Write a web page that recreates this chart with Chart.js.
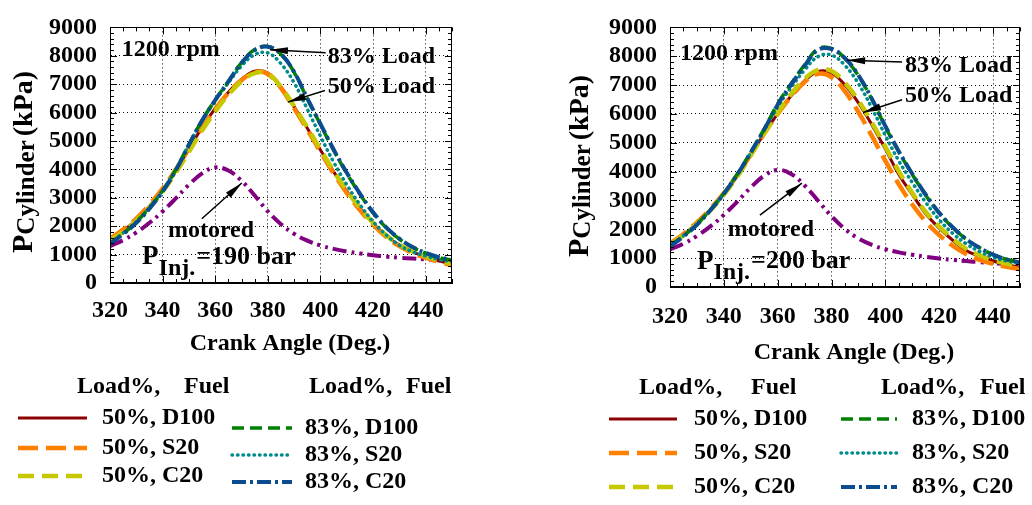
<!DOCTYPE html>
<html>
<head>
<meta charset="utf-8">
<script src="https://cdn.jsdelivr.net/npm/chart.js@4.4.0/dist/chart.umd.min.js"></script>
<style>
html, body { margin: 0; padding: 0; background: #fff; }
#wrap { position: relative; width: 1032px; height: 505px; }
canvas { position: absolute; top: 0; }
</style>
</head>
<body>
<div id="wrap">
  <canvas id="leftChart" width="516" height="505" style="left:0"></canvas>
  <canvas id="rightChart" width="516" height="505" style="left:516px"></canvas>
</div>
<script>
// crank angle (deg) and axis ticks
var crankAngle = [320, 325, 330, 335, 340, 345, 350, 355, 360, 365, 370, 375, 380, 385, 390, 395, 400, 405, 410, 415, 420, 425, 430, 435, 440, 445, 450];
var xTicks = [320, 340, 360, 380, 400, 420, 440];
var yTicks = [0, 1000, 2000, 3000, 4000, 5000, 6000, 7000, 8000, 9000];

// P_inj = 190 bar (kPa)
var inj190_d50 = [1500, 1830, 2220, 2700, 3270, 3950, 4720, 5480, 6150, 6720, 7170, 7460, 7390, 6900, 6200, 5450, 4680, 3920, 3230, 2630, 2100, 1660, 1340, 1100, 930, 780, 660];
var inj190_s50 = [1560, 1880, 2270, 2760, 3320, 3990, 4730, 5460, 6120, 6690, 7140, 7430, 7360, 6860, 6150, 5400, 4620, 3860, 3170, 2570, 2050, 1620, 1300, 1060, 890, 750, 620];
var inj190_c50 = [1480, 1800, 2190, 2660, 3220, 3880, 4620, 5370, 6040, 6630, 7100, 7390, 7370, 6900, 6220, 5480, 4700, 3950, 3260, 2650, 2120, 1680, 1350, 1110, 940, 800, 680];
var inj190_d83 = [1400, 1740, 2150, 2650, 3250, 3990, 4880, 5730, 6450, 7100, 7760, 8220, 8330, 8050, 7420, 6480, 5580, 4680, 3860, 3130, 2470, 1950, 1550, 1260, 1050, 900, 800];
var inj190_s83 = [1420, 1760, 2160, 2660, 3260, 4000, 4880, 5720, 6420, 7050, 7640, 8040, 8100, 7720, 7050, 6120, 5170, 4260, 3460, 2760, 2160, 1690, 1330, 1100, 950, 830, 740];
var inj190_c83 = [1380, 1720, 2120, 2620, 3220, 3960, 4860, 5720, 6440, 7090, 7750, 8200, 8320, 8060, 7430, 6500, 5600, 4700, 3880, 3150, 2490, 1960, 1560, 1270, 1060, 910, 810];
var inj190_motored = [1300, 1510, 1780, 2120, 2520, 2980, 3460, 3860, 4070, 3960, 3600, 3080, 2520, 2070, 1730, 1490, 1320, 1200, 1110, 1040, 980, 930, 890, 860, 830, 800, 770];

// P_inj = 200 bar (kPa)
var inj200_d50 = [1480, 1800, 2210, 2680, 3220, 3860, 4580, 5320, 6010, 6630, 7150, 7470, 7420, 7000, 6380, 5620, 4780, 3900, 3200, 2540, 2040, 1620, 1260, 1070, 900, 780, 680];
var inj200_s50 = [1510, 1840, 2240, 2710, 3250, 3880, 4590, 5320, 6000, 6610, 7110, 7390, 7280, 6780, 6060, 5230, 4370, 3560, 2860, 2270, 1800, 1430, 1140, 940, 800, 700, 620];
var inj200_c50 = [1470, 1790, 2190, 2660, 3200, 3830, 4560, 5320, 6040, 6690, 7220, 7530, 7490, 7080, 6460, 5700, 4860, 4010, 3260, 2600, 2090, 1670, 1320, 1100, 930, 810, 710];
var inj200_d83 = [1430, 1770, 2180, 2680, 3250, 3920, 4680, 5480, 6350, 7050, 7700, 8260, 8270, 7920, 7320, 6500, 5550, 4680, 3900, 3180, 2560, 2060, 1660, 1360, 1120, 960, 860];
var inj200_s83 = [1440, 1780, 2180, 2670, 3240, 3900, 4660, 5450, 6250, 6920, 7520, 7990, 8040, 7680, 7050, 6200, 5250, 4370, 3620, 2930, 2330, 1860, 1500, 1230, 1030, 900, 820];
var inj200_c83 = [1410, 1750, 2160, 2660, 3230, 3900, 4660, 5460, 6320, 7020, 7670, 8220, 8250, 7930, 7340, 6520, 5580, 4700, 3920, 3200, 2570, 2070, 1660, 1360, 1120, 960, 850];
var inj200_motored = [1300, 1500, 1770, 2100, 2500, 2960, 3450, 3860, 4060, 3920, 3520, 2990, 2450, 2010, 1680, 1460, 1310, 1200, 1120, 1050, 990, 940, 900, 860, 830, 800, 780];

Chart.defaults.font.family = "'Liberation Serif', 'Times New Roman', serif";
Chart.defaults.font.weight = 'bold';
Chart.defaults.color = '#000';

var SERIF = '"Liberation Serif", "Times New Roman", serif';
var FONT = 'bold 24px ' + SERIF;

var styles = {
    d50: { color: '#8B0000', width: 3, dash: [], cap: 'butt' },
    s50: { color: '#FF8000', width: 4.5, dash: [20, 8], cap: 'butt' },
    c50: { color: '#C8C800', width: 4.5, dash: [16, 8], cap: 'butt' },
    d83: { color: '#008000', width: 3.5, dash: [12, 6], cap: 'butt' },
    s83: { color: '#008B8B', width: 3.5, dash: [0.5, 5], cap: 'round' },
    c83: { color: '#0B4C8F', width: 4, dash: [14, 4, 3, 4], cap: 'butt' },
    mot: { color: '#800080', width: 4, dash: [14, 5, 3, 5, 3, 5], cap: 'butt' }
};

function mkSet(label, data, st, order) {
    return {
        label: label,
        data: data,
        borderColor: st.color,
        borderWidth: st.width,
        borderDash: st.dash,
        borderCapStyle: st.cap,
        pointRadius: 0,
        fill: false,
        tension: 0.4,
        order: order
    };
}

function drawArrow(ctx, x1, y1, x2, y2) {
    var ang = Math.atan2(y2 - y1, x2 - x1);
    ctx.beginPath();
    ctx.moveTo(x1, y1);
    ctx.lineTo(x2, y2);
    ctx.lineWidth = 1.5;
    ctx.stroke();
    ctx.beginPath();
    ctx.moveTo(x2, y2);
    ctx.lineTo(x2 - 18 * Math.cos(ang) + 3.5 * Math.sin(ang), y2 - 18 * Math.sin(ang) - 3.5 * Math.cos(ang));
    ctx.lineTo(x2 - 18 * Math.cos(ang) - 3.5 * Math.sin(ang), y2 - 18 * Math.sin(ang) + 3.5 * Math.cos(ang));
    ctx.closePath();
    ctx.fill();
}

var extras = {
    id: 'extras',
    afterDraw: function(chart, args, o) {
        var ctx = chart.ctx, a = chart.chartArea, xs = chart.scales.x, ys = chart.scales.y;
        var px = function(v) { return xs.getPixelForValue(v); };
        var py = function(v) { return ys.getPixelForValue(v); };
        ctx.save();
        ctx.strokeStyle = '#000';
        ctx.fillStyle = '#000';
        ctx.lineWidth = 1;

        // minor / major tick marks on all four sides
        ctx.beginPath();
        var v, p, len;
        for (v = xs.min; v <= xs.max; v += 5) {
            p = Math.round(px(v)) + 0.5;
            len = (v % 20 === 0) ? 7 : 4;
            ctx.moveTo(p, a.bottom); ctx.lineTo(p, a.bottom - len);
            ctx.moveTo(p, a.top); ctx.lineTo(p, a.top + len);
        }
        for (v = ys.min; v <= ys.max; v += 200) {
            p = Math.round(py(v)) + 0.5;
            len = (v % 1000 === 0) ? 7 : 4;
            ctx.moveTo(a.left, p); ctx.lineTo(a.left + len, p);
            ctx.moveTo(a.right, p); ctx.lineTo(a.right - len, p);
        }
        ctx.stroke();
        ctx.strokeRect(Math.round(a.left) + 0.5, Math.round(a.top) + 0.5, Math.round(a.right - a.left) - 1, Math.round(a.bottom - a.top) - 1);

        ctx.font = FONT;
        ctx.textBaseline = 'middle';
        ctx.textAlign = 'left';

        // annotations inside the plot
        ctx.fillText('1200 rpm', px(o.rpm[0]), py(o.rpm[1]));
        ctx.fillText('83% Load', px(o.load83[0]), py(o.load83[1]));
        ctx.fillText('50% Load', px(o.load50[0]), py(o.load50[1]));
        drawArrow(ctx, px(o.arrow83[0]), py(o.arrow83[1]), px(o.arrow83[2]), py(o.arrow83[3]));
        drawArrow(ctx, px(o.arrow50[0]), py(o.arrow50[1]), px(o.arrow50[2]), py(o.arrow50[3]));
        ctx.textAlign = 'center';
        ctx.fillText('motored', px(o.motored[0]), py(o.motored[1]));
        drawArrow(ctx, px(o.arrowMot[0]), py(o.arrowMot[1]), px(o.arrowMot[2]), py(o.arrowMot[3]));

        // P_Inj. label with subscript
        ctx.textAlign = 'left';
        var ix = px(o.inj[0]), iy = py(o.inj[1]);
        ctx.font = 'bold 27px ' + SERIF;
        ctx.fillText('P', ix, iy);
        ix += ctx.measureText('P').width;
        ctx.font = FONT;
        ctx.fillText('Inj.', ix, iy + 11);
        ix += ctx.measureText('Inj.').width + 1;
        ctx.font = 'bold 26px ' + SERIF;
        ctx.fillText('=' + o.injText + ' bar', ix, iy);
        ctx.font = FONT;

        // axis titles
        ctx.textAlign = 'center';
        ctx.fillText('Crank Angle (Deg.)', (a.left + a.right) / 2 + 9, a.bottom + o.xTitleGap);

        ctx.save();
        ctx.translate(a.left - o.yTitleGap, a.bottom - 30);
        ctx.rotate(-Math.PI / 2);
        ctx.textAlign = 'left';
        ctx.textBaseline = 'alphabetic';
        ctx.font = 'bold 30px ' + SERIF;
        ctx.fillText('P', 0, 0);
        var w = ctx.measureText('P').width;
        ctx.font = 'bold 25px ' + SERIF;
        ctx.fillText('Cylinder', w, 2);
        w += ctx.measureText('Cylinder').width + 4;
        ctx.font = 'bold 28px ' + SERIF;
        ctx.fillText('(kPa)', w, 0);
        ctx.restore();

        // legend below the plot
        var lg = o.legend;
        ctx.font = FONT;
        ctx.textAlign = 'left';
        ctx.textBaseline = 'middle';
        lg.headers.forEach(function(h) { ctx.fillText(h[0], h[1], h[2]); });
        lg.rows.forEach(function(r) {
            var ds = chart.data.datasets.filter(function(d) { return d.label === r[0]; })[0];
            ctx.save();
            ctx.beginPath();
            ctx.strokeStyle = ds.borderColor;
            ctx.lineWidth = ds.borderWidth;
            ctx.lineCap = ds.borderCapStyle;
            ctx.setLineDash(ds.borderDash);
            ctx.moveTo(r[1], r[3]);
            ctx.lineTo(r[2], r[3]);
            ctx.stroke();
            ctx.restore();
            ctx.fillText(r[0], r[4], r[3]);
        });
        ctx.restore();
    }
};

function buildChart(id, s, cfg) {
    var ctx = document.getElementById(id).getContext('2d');
    return new Chart(ctx, {
        type: 'line',
        data: {
            labels: crankAngle,
            datasets: [
                mkSet('50%, D100', s.d50, styles.d50, 6),
                mkSet('50%, S20', s.s50, styles.s50, 5),
                mkSet('50%, C20', s.c50, styles.c50, 4),
                mkSet('83%, D100', s.d83, styles.d83, 2),
                mkSet('83%, S20', s.s83, styles.s83, 3),
                mkSet('83%, C20', s.c83, styles.c83, 1),
                mkSet('motored', s.mot, styles.mot, 7)
            ].map(function(ds) {
                ds.data = ds.data.map(function(y, i) { return { x: crankAngle[i], y: y }; });
                return ds;
            })
        },
        options: {
            responsive: false,
            animation: false,
            devicePixelRatio: 1,
            events: [],
            layout: { padding: { left: 0, top: 19, right: cfg.padRight, bottom: cfg.padBottom } },
            scales: {
                x: {
                    type: 'linear',
                    min: 320,
                    max: 450,
                    afterFit: function(scale) { scale.height = 40; },
                    afterBuildTicks: function(scale) { scale.ticks = xTicks.map(function(t) { return { value: t }; }); },
                    ticks: {
                        font: { size: 24, weight: 'bold' }, color: '#000', padding: cfg.xPad,
                        maxRotation: 0, autoSkip: false,
                        callback: function(v) { return String(v); }
                    },
                    grid: { color: '#000', lineWidth: 1, drawTicks: false },
                    border: { display: true, color: '#000', width: 1, dash: [1, 3] }
                },
                y: {
                    min: 0,
                    max: 9000,
                    afterFit: function(scale) { scale.width = cfg.yWidth; },
                    afterBuildTicks: function(scale) { scale.ticks = yTicks.map(function(t) { return { value: t }; }); },
                    ticks: {
                        font: { size: 24, weight: 'bold' }, color: '#000', padding: 13,
                        autoSkip: false,
                        callback: function(v) { return String(v); }
                    },
                    grid: { color: '#000', lineWidth: 1, drawTicks: false },
                    border: { display: true, color: '#000', width: 1, dash: [1, 3] }
                }
            },
            plugins: {
                legend: { display: false },
                tooltip: { enabled: false },
                extras: cfg.notes
            }
        },
        plugins: [extras]
    });
}

buildChart('leftChart', {
    d50: inj190_d50, s50: inj190_s50, c50: inj190_c50,
    d83: inj190_d83, s83: inj190_s83, c83: inj190_c83, mot: inj190_motored
}, {
    padRight: 64, padBottom: 182, yWidth: 110, xPad: 13,
    notes: {
        rpm: [324.5, 8200],
        load83: [402.8, 7970], arrow83: [402.0, 8110, 380.8, 8210],
        load50: [402.8, 6910], arrow50: [401.7, 6780, 387.6, 6370],
        motored: [358.4, 1850], arrowMot: [354.9, 2260, 370.1, 3520],
        inj: [332.2, 900], injText: '190',
        xTitleGap: 61, yTitleGap: 78,
        legend: {
            headers: [['Load%,', 77, 387], ['Fuel', 184, 387], ['Load%,', 309, 387], ['Fuel', 406, 387]],
            rows: [
                ['50%, D100', 18, 87, 418, 102],
                ['50%, S20', 18, 87, 448, 102],
                ['50%, C20', 18, 87, 476, 102],
                ['83%, D100', 232, 292, 428, 305],
                ['83%, S20', 232, 292, 455, 305],
                ['83%, C20', 232, 292, 482, 305]
            ]
        }
    }
});

buildChart('rightChart', {
    d50: inj200_d50, s50: inj200_s50, c50: inj200_c50,
    d83: inj200_d83, s83: inj200_s83, c83: inj200_c83, mot: inj200_motored
}, {
    padRight: 12, padBottom: 178, yWidth: 154, xPad: 15,
    notes: {
        rpm: [323.7, 8100],
        load83: [407.3, 7660], arrow83: [406.2, 7800, 385.8, 7860],
        load50: [407.3, 6620], arrow50: [406.2, 6490, 391.7, 6050],
        motored: [357.5, 1990], arrowMot: [353.4, 2490, 369.0, 3600],
        inj: [330.0, 880], injText: '200',
        xTitleGap: 66, yTitleGap: 82,
        legend: {
            headers: [['Load%,', 123, 388], ['Fuel', 235, 388], ['Load%,', 365, 388], ['Fuel', 464, 388]],
            rows: [
                ['50%, D100', 93, 161, 419, 178],
                ['50%, S20', 93, 161, 453, 178],
                ['50%, C20', 93, 161, 487, 178],
                ['83%, D100', 325, 381, 419, 396],
                ['83%, S20', 325, 381, 453, 396],
                ['83%, C20', 325, 381, 487, 396]
            ]
        }
    }
});
</script>
</body>
</html>
